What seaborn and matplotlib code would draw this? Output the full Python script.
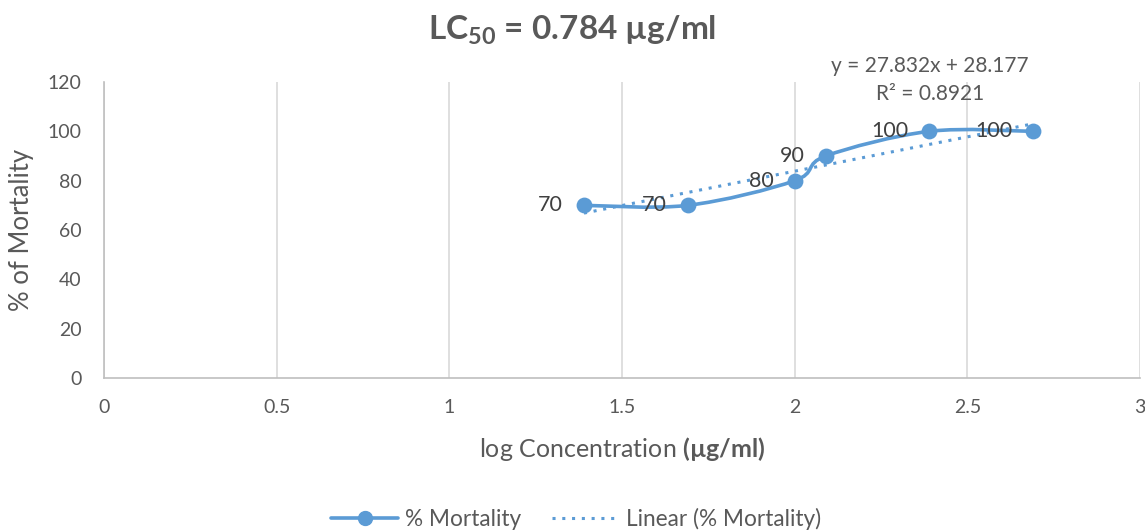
import numpy as np
import pandas as pd
import matplotlib
matplotlib.use('Agg')
import matplotlib.pyplot as plt
from matplotlib.path import Path
from matplotlib.patches import PathPatch
from matplotlib.lines import Line2D
import seaborn as sns

# data
log_conc = [1.39, 1.69, 2.0, 2.09, 2.39, 2.69]
mortality = [70, 70, 80, 90, 100, 100]
x_ticks = [0, 0.5, 1, 1.5, 2, 2.5, 3]
y_ticks = [0, 20, 40, 60, 80, 100, 120]

df = pd.DataFrame({'x': log_conc, 'y': mortality})

sns.set_style('white')
plt.rcParams['font.family'] = ['Lato', 'DejaVu Sans']
plt.rcParams['mathtext.fontset'] = 'custom'
plt.rcParams['mathtext.rm'] = 'Lato'
plt.rcParams['mathtext.bf'] = 'Lato:bold'

blue = '#5B9BD5'
gray = '#595959'

fig = plt.figure(figsize=(11.45, 5.31), dpi=100)
ax = fig.add_axes([0.0908, 0.288, 0.9048, 0.5576])

# smoothed line (excel style bezier through the points)
pts = np.column_stack([log_conc, mortality]).astype(float)
ext = np.vstack([pts[0], pts, pts[-1]])
verts = [tuple(pts[0])]
codes = [Path.MOVETO]
for i in range(len(pts) - 1):
    p0, p1, p2, p3 = ext[i], ext[i + 1], ext[i + 2], ext[i + 3]
    c1 = p1 + (p2 - p0) / 6
    c2 = p2 - (p3 - p1) / 6
    verts += [tuple(c1), tuple(c2), tuple(p2)]
    codes += [Path.CURVE4] * 3
ax.add_patch(PathPatch(Path(verts, codes), facecolor='none', edgecolor=blue,
                       lw=2.6, capstyle='round', zorder=3))

# linear trend line
sns.regplot(data=df, x='x', y='y', ax=ax, scatter=False, ci=None, truncate=True,
            line_kws=dict(color=blue, lw=2.2, linestyle=(0, (1, 2.2)), zorder=2))

sns.scatterplot(data=df, x='x', y='y', ax=ax, color=blue, s=130,
                edgecolor=blue, linewidth=0, zorder=4)

for xv, yv in zip(log_conc, mortality):
    ax.annotate(str(yv), (xv, yv), xytext=(-15, 0), textcoords='offset points',
                ha='right', va='center', fontsize=15.5, color='#404040', zorder=5)

ax.set_xlim(0, 3)
ax.set_ylim(0, 120)
ax.set_xticks(x_ticks)
ax.set_xticklabels([f'{t:g}' for t in x_ticks])
ax.set_yticks(y_ticks)
ax.tick_params(axis='both', length=0, labelsize=14, labelcolor=gray)
ax.tick_params(axis='x', pad=15)
ax.tick_params(axis='y', pad=16)
ax.grid(axis='x', color='#D9D9D9', lw=1.2)
ax.grid(axis='y', visible=False)
for s in ['top', 'right']:
    ax.spines[s].set_visible(False)
for s in ['left', 'bottom']:
    ax.spines[s].set_color('#BFBFBF')
    ax.spines[s].set_linewidth(1.2)

ax.set_xlabel(r'log Concentration $\mathbf{(µg/ml)}$', fontsize=18, color=gray, labelpad=14)
ax.set_ylabel('% of Mortality', fontsize=18.5, color=gray, labelpad=10)

fig.suptitle(r'LC$_{\mathbf{50}}$ = 0.784 µg/ml', x=0.5, y=1 - 30 / 531, va='center',
             fontsize=24, fontweight='bold', color=gray)

fig.text(930 / 1145, 1 - 66 / 531, 'y = 27.832x + 28.177', ha='center', va='center',
         fontsize=15, color=gray)
fig.text(930 / 1145, 1 - 94 / 531, 'R² = 0.8921', ha='center', va='center',
         fontsize=15, color=gray)

handles = [Line2D([], [], color=blue, lw=2.6, marker='o', markersize=10),
           Line2D([], [], color=blue, lw=2.2, linestyle=(0, (1, 2.2)))]
fig.legend(handles, ['% Mortality', 'Linear (% Mortality)'], loc='center',
           bbox_to_anchor=(0.503, 1 - 519 / 531), ncol=2, frameon=False,
           fontsize=16.3, labelcolor=gray, handlelength=2.95, handletextpad=0.3,
           columnspacing=1.37)

fig.savefig('out.png', dpi=100)
